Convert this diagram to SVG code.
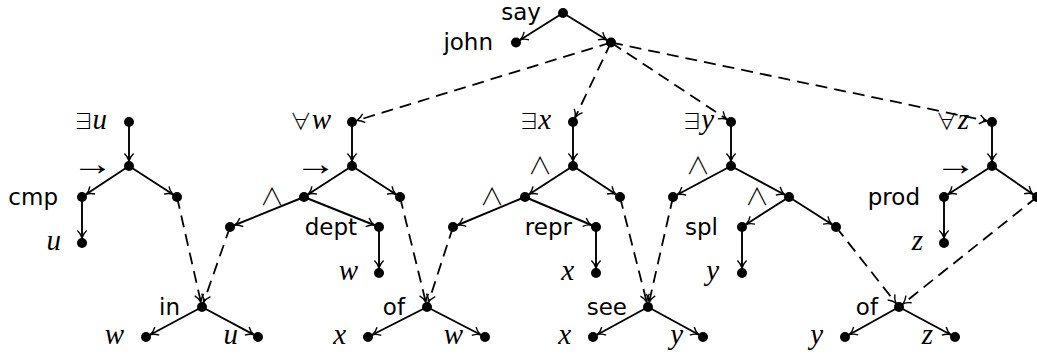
<svg xmlns="http://www.w3.org/2000/svg" width="1037" height="354" viewBox="0 0 1037 354">
<style>
.e{stroke:#000;stroke-width:1.9;fill:none;marker-end:url(#ah)}
.d{stroke:#000;stroke-width:1.8;fill:none;stroke-dasharray:12,7;marker-end:url(#ah)}
circle{fill:#000}
.t{font-family:"DejaVu Sans",sans-serif;font-size:23px;text-anchor:end;fill:#000}
.m{font-family:"Liberation Serif",serif;font-style:italic;font-size:29px;text-anchor:end;fill:#000}
.s{font-family:"Noto Sans CJK JP","DejaVu Serif",serif;font-style:normal;font-weight:300;font-size:22px}
.w{font-family:"Noto Sans CJK JP","DejaVu Sans",sans-serif;font-style:normal;font-weight:300;font-size:24px;text-anchor:end;fill:#000}
.a{font-family:"Liberation Serif",serif;font-size:34px;fill:#000}
</style>
<defs>
<marker id="ah" markerUnits="userSpaceOnUse" markerWidth="16" markerHeight="16" refX="5" refY="0" viewBox="-9 -8 16 16" orient="auto" overflow="visible">
<path d="M-7.5,-4.6 C-5,-2 -2,-0.5 0,0 C-2,0.5 -5,2 -7.5,4.6" stroke="#000" stroke-width="1.4" fill="none"/>
</marker>
</defs>
<g id="connectors">
<line class="e" x1="563" y1="13" x2="516" y2="42.5"/>
<line class="e" x1="563" y1="13" x2="611" y2="42.5"/>
<line class="d" x1="611" y1="42.5" x2="352" y2="122"/>
<line class="d" x1="611" y1="42.5" x2="573" y2="122"/>
<line class="d" x1="611" y1="42.5" x2="731" y2="122"/>
<line class="d" x1="611" y1="42.5" x2="992" y2="122"/>
<line class="e" x1="129" y1="122" x2="129" y2="166"/>
<line class="e" x1="129" y1="166" x2="82" y2="197"/>
<line class="e" x1="129" y1="166" x2="177" y2="197"/>
<line class="e" x1="82" y1="197" x2="82" y2="243"/>
<line class="e" x1="352" y1="122" x2="352" y2="166"/>
<line class="e" x1="352" y1="166" x2="304" y2="197"/>
<line class="e" x1="352" y1="166" x2="400" y2="197"/>
<line class="e" x1="304" y1="197" x2="230" y2="227"/>
<line class="e" x1="304" y1="197" x2="379" y2="227"/>
<line class="e" x1="379" y1="227" x2="379" y2="273"/>
<line class="e" x1="573" y1="122" x2="573" y2="166"/>
<line class="e" x1="573" y1="166" x2="525" y2="197"/>
<line class="e" x1="573" y1="166" x2="620" y2="197"/>
<line class="e" x1="525" y1="197" x2="453" y2="227"/>
<line class="e" x1="525" y1="197" x2="596" y2="227"/>
<line class="e" x1="596" y1="227" x2="596" y2="273"/>
<line class="e" x1="731" y1="122" x2="731" y2="166"/>
<line class="e" x1="731" y1="166" x2="673" y2="197"/>
<line class="e" x1="731" y1="166" x2="789" y2="197"/>
<line class="e" x1="789" y1="197" x2="742" y2="227"/>
<line class="e" x1="789" y1="197" x2="836" y2="227"/>
<line class="e" x1="742" y1="227" x2="742" y2="273"/>
<line class="e" x1="992" y1="122" x2="992" y2="166"/>
<line class="e" x1="992" y1="166" x2="944" y2="197"/>
<line class="e" x1="992" y1="166" x2="1037" y2="197"/>
<line class="e" x1="944" y1="197" x2="944" y2="243"/>
<line class="d" x1="177" y1="197" x2="202" y2="307"/>
<line class="d" x1="230" y1="227" x2="202" y2="307"/>
<line class="d" x1="400" y1="197" x2="427" y2="307"/>
<line class="d" x1="453" y1="227" x2="427" y2="307"/>
<line class="d" x1="620" y1="197" x2="648" y2="307"/>
<line class="d" x1="673" y1="197" x2="648" y2="307"/>
<line class="d" x1="836" y1="227" x2="899" y2="307"/>
<line class="d" x1="1037" y1="197" x2="899" y2="307"/>
<line class="e" x1="202" y1="307" x2="146" y2="337"/>
<line class="e" x1="202" y1="307" x2="258" y2="337"/>
<line class="e" x1="427" y1="307" x2="368" y2="337"/>
<line class="e" x1="427" y1="307" x2="485" y2="337"/>
<line class="e" x1="648" y1="307" x2="593" y2="337"/>
<line class="e" x1="648" y1="307" x2="703" y2="337"/>
<line class="e" x1="899" y1="307" x2="845" y2="337"/>
<line class="e" x1="899" y1="307" x2="955" y2="337"/>
</g>
<g id="n-say"><circle cx="563" cy="13" r="5"/><text class="t" x="541" y="20">say</text></g>
<g id="n-john"><circle cx="516" cy="42.5" r="5"/><text class="t" x="493" y="50">john</text></g>
<g id="n-m"><circle cx="611" cy="42.5" r="5"/></g>
<g id="n-eu"><circle cx="129" cy="122" r="5"/><text class="m" x="107" y="129"><tspan class="s">∃</tspan><tspan dx="-2">u</tspan></text></g>
<g id="n-eu-imp"><circle cx="129" cy="166" r="5"/><text class="a" x="71.5" y="175" textLength="42" lengthAdjust="spacingAndGlyphs">→</text></g>
<g id="n-cmp"><circle cx="82" cy="197" r="5"/><text class="t" x="58" y="205">cmp</text></g>
<g id="n-eu-r"><circle cx="177" cy="197" r="5"/></g>
<g id="n-cmp-u"><circle cx="82" cy="243" r="5"/><text class="m" x="61" y="250">u</text></g>
<g id="n-aw"><circle cx="352" cy="122" r="5"/><text class="m" x="331" y="129"><tspan class="s">∀</tspan>w</text></g>
<g id="n-aw-imp"><circle cx="352" cy="166" r="5"/><text class="a" x="294.5" y="175" textLength="42" lengthAdjust="spacingAndGlyphs">→</text></g>
<g id="n-aw-and"><circle cx="304" cy="197" r="5"/><text class="w" x="284" y="205">∧</text></g>
<g id="n-aw-r"><circle cx="400" cy="197" r="5"/></g>
<g id="n-aw-ll"><circle cx="230" cy="227" r="5"/></g>
<g id="n-dept"><circle cx="379" cy="227" r="5"/><text class="t" x="357" y="235">dept</text></g>
<g id="n-dept-w"><circle cx="379" cy="273" r="5"/><text class="m" x="358" y="280">w</text></g>
<g id="n-ex"><circle cx="573" cy="122" r="5"/><text class="m" x="551" y="129"><tspan class="s">∃</tspan><tspan dx="-2">x</tspan></text></g>
<g id="n-ex-and"><circle cx="573" cy="166" r="5"/><text class="w" x="552" y="174">∧</text></g>
<g id="n-ex-and2"><circle cx="525" cy="197" r="5"/><text class="w" x="504" y="205">∧</text></g>
<g id="n-ex-r"><circle cx="620" cy="197" r="5"/></g>
<g id="n-ex-ll"><circle cx="453" cy="227" r="5"/></g>
<g id="n-repr"><circle cx="596" cy="227" r="5"/><text class="t" x="572" y="235">repr</text></g>
<g id="n-repr-x"><circle cx="596" cy="273" r="5"/><text class="m" x="574" y="280">x</text></g>
<g id="n-ey"><circle cx="731" cy="122" r="5"/><text class="m" x="714" y="129"><tspan class="s">∃</tspan><tspan dx="-2">y</tspan></text></g>
<g id="n-ey-and"><circle cx="731" cy="166" r="5"/><text class="w" x="710" y="174">∧</text></g>
<g id="n-ey-l"><circle cx="673" cy="197" r="5"/></g>
<g id="n-ey-and2"><circle cx="789" cy="197" r="5"/><text class="w" x="769" y="205">∧</text></g>
<g id="n-spl"><circle cx="742" cy="227" r="5"/><text class="t" x="718" y="235">spl</text></g>
<g id="n-ey-rr"><circle cx="836" cy="227" r="5"/></g>
<g id="n-spl-y"><circle cx="742" cy="273" r="5"/><text class="m" x="719" y="280">y</text></g>
<g id="n-az"><circle cx="992" cy="122" r="5"/><text class="m" x="969" y="129"><tspan class="s">∀</tspan>z</text></g>
<g id="n-az-imp"><circle cx="992" cy="166" r="5"/><text class="a" x="934.5" y="175" textLength="42" lengthAdjust="spacingAndGlyphs">→</text></g>
<g id="n-prod"><circle cx="944" cy="197" r="5"/><text class="t" x="920" y="205">prod</text></g>
<g id="n-az-r"><circle cx="1037" cy="197" r="5"/></g>
<g id="n-prod-z"><circle cx="944" cy="243" r="5"/><text class="m" x="923" y="250">z</text></g>
<g id="n-in"><circle cx="202" cy="307" r="5"/><text class="t" x="180" y="315">in</text></g>
<g id="n-in-w"><circle cx="146" cy="337" r="5"/><text class="m" x="124" y="344">w</text></g>
<g id="n-in-u"><circle cx="258" cy="337" r="5"/><text class="m" x="238" y="344">u</text></g>
<g id="n-of1"><circle cx="427" cy="307" r="5"/><text class="t" x="405" y="315">of</text></g>
<g id="n-of1-x"><circle cx="368" cy="337" r="5"/><text class="m" x="346" y="344">x</text></g>
<g id="n-of1-w"><circle cx="485" cy="337" r="5"/><text class="m" x="463" y="344">w</text></g>
<g id="n-see"><circle cx="648" cy="307" r="5"/><text class="t" x="627" y="315">see</text></g>
<g id="n-see-x"><circle cx="593" cy="337" r="5"/><text class="m" x="571" y="344">x</text></g>
<g id="n-see-y"><circle cx="703" cy="337" r="5"/><text class="m" x="683" y="344">y</text></g>
<g id="n-of2"><circle cx="899" cy="307" r="5"/><text class="t" x="878" y="315">of</text></g>
<g id="n-of2-y"><circle cx="845" cy="337" r="5"/><text class="m" x="823" y="344">y</text></g>
<g id="n-of2-z"><circle cx="955" cy="337" r="5"/><text class="m" x="933" y="344">z</text></g>
</svg>
